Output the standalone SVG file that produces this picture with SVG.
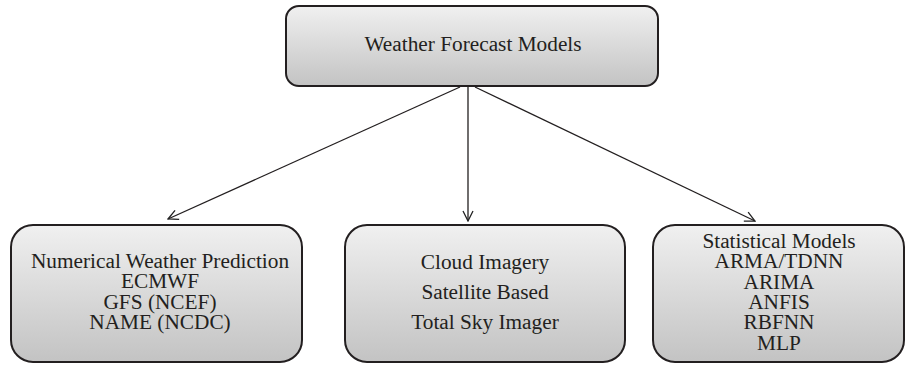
<svg xmlns="http://www.w3.org/2000/svg" width="906" height="366" viewBox="0 0 906 366">
<defs>
<linearGradient id="g" x1="0" y1="0" x2="0" y2="1">
<stop offset="0" stop-color="#f0f0f0"/>
<stop offset="1" stop-color="#c3c3c3"/>
</linearGradient>
<marker id="arr" viewBox="0 0 12 12" refX="11" refY="6" markerWidth="12" markerHeight="12" markerUnits="userSpaceOnUse" orient="auto">
<path d="M1,1 L11,6 L1,11" fill="none" stroke="#222" stroke-width="1.3"/>
</marker>
</defs>
<style>
.box{fill:url(#g);stroke:#231f20;stroke-width:2}
text{font-family:"Liberation Serif","Times New Roman",serif;font-size:21.3px;fill:#231f20;text-anchor:middle}
.c{stroke:#231f20;stroke-width:1.3;fill:none}
</style>
<rect width="906" height="366" fill="#fff"/>
<g id="connectors">
<line class="c" x1="460" y1="87" x2="168" y2="219" marker-end="url(#arr)"/>
<line class="c" x1="468" y1="87" x2="468" y2="221" marker-end="url(#arr)"/>
<line class="c" x1="475" y1="87" x2="755" y2="221" marker-end="url(#arr)"/>
</g>
<g id="top">
<rect class="box" x="286" y="6" width="372" height="80" rx="13"/>
<text x="473" y="51">Weather Forecast Models</text>
</g>
<g id="nwp">
<rect class="box" x="11" y="225" width="291" height="137" rx="22"/>
<text x="160" y="268">Numerical Weather Prediction</text>
<text x="160" y="288">ECMWF</text>
<text x="160" y="309">GFS (NCEF)</text>
<text x="160" y="329">NAME (NCDC)</text>
</g>
<g id="cloud">
<rect class="box" x="345" y="225" width="280" height="137" rx="22"/>
<text x="485" y="269">Cloud Imagery</text>
<text x="485" y="299">Satellite Based</text>
<text x="485" y="329">Total Sky Imager</text>
</g>
<g id="stat">
<rect class="box" x="653" y="225" width="251" height="137" rx="22"/>
<text x="779" y="248">Statistical Models</text>
<text x="779" y="268">ARMA/TDNN</text>
<text x="779" y="289">ARIMA</text>
<text x="779" y="309">ANFIS</text>
<text x="779" y="329">RBFNN</text>
<text x="779" y="350">MLP</text>
</g>
</svg>
